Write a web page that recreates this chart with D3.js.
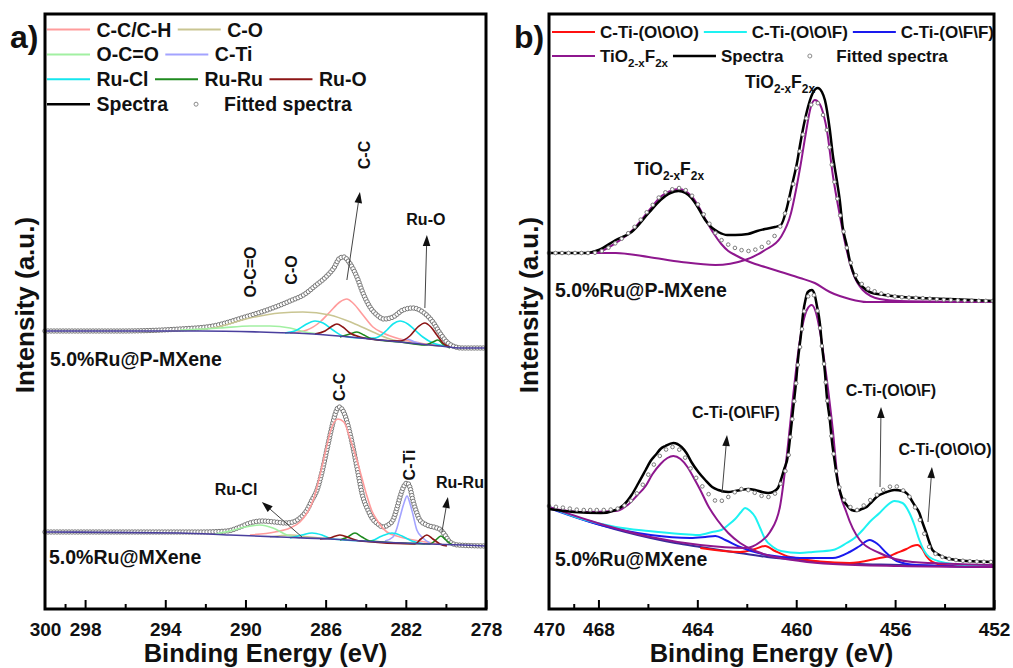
<!DOCTYPE html>
<html>
<head>
<meta charset="utf-8">
<script src="https://cdn.jsdelivr.net/npm/d3@7"></script>
<style>
    body { margin: 0; background: #fff; }
    svg { display: block; }
    text { font-family: "Liberation Sans", Arial, sans-serif; font-weight: bold; fill: #111; }
</style>
</head>
<body>
<svg id="chart" width="1013" height="668"></svg>
<script>
const frameTop = 14;
const frameBottom = 609;

// ---------- panel a : C 1s / Ru 3d   points are [binding energy (eV), intensity (a.u.)]
const aTickLabels = [300, 298, 294, 290, 286, 282, 278];
const aMajorTicks = [298, 294, 290, 286, 282, 278];
const aMinorTicks = [299, 296, 292, 288, 284, 280];
const aComponents = ["C-C/C-H", "C-O", "O-C=O", "C-Ti", "Ru-Cl", "Ru-Ru", "Ru-O"];

// 5.0%Ru@P-MXene (fit sits on the measured spectra, so one list for both)
const aTopSpectra = [[300,278],[296.26,278],[293.27,280],[291.62,283],[290.02,292],[288.78,300],[287.78,308],[287.03,315],[286.53,323],[285.99,332],[285.59,341],[285.29,351],[285.09,352],[284.84,347],[284.44,332],[284.14,316],[283.79,302],[283.44,294],[283.09,290],[282.64,292],[282.14,299],[281.65,301],[281.15,297],[280.65,287],[280.30,276],[279.95,267],[279.65,263],[279.20,261],[278,261]];
const aTopBackground = [[300,278],[292.27,278],[289.28,277],[286.63,275],[284.79,272],[283.29,269],[281.80,266],[280.30,263],[279.30,261],[278,261]];
const aTopCCH = [[287.78,276],[286.93,279],[286.28,287],[285.79,297],[285.29,307],[284.94,310],[284.64,306],[284.14,294],[283.64,282],[283.14,276],[282.29,270],[281.30,266],[280.30,263]];
const aTopCO = [[293.77,278],[291.62,281],[289.78,291],[288.28,296],[287.13,297],[285.79,294],[284.64,286],[283.64,277],[282.79,270],[281.80,266],[280.30,263]];
const aTopOCO = [[293.27,279],[291.27,281],[289.78,283],[288.78,283],[287.78,281],[287.03,277],[286.28,275]];
const aTopCTi = [[282.79,268],[282.29,268],[281.94,270],[281.55,267],[281.05,264]];
const aTopRuCl = [[288.03,276],[287.43,279],[287.03,284],[286.53,288],[286.13,286],[285.64,279],[285.14,273],[284.29,271],[283.54,271],[282.94,279],[282.64,285],[282.29,288],[281.90,285],[281.55,279],[281.15,272],[280.65,266],[280.05,263]];
const aTopRuRu = [[285.29,272],[284.79,275],[284.44,277],[284.09,274],[283.69,270],[282.29,267],[281.05,264],[280.65,267],[280.40,269],[280.15,265],[279.80,261]];
const aTopRuO = [[286.53,275],[286.03,278],[285.74,282],[285.44,285],[285.14,282],[284.79,276],[284.29,272],[283.29,269],[282.29,268],[281.80,273],[281.40,282],[281.05,286],[280.75,282],[280.45,274],[280.15,266],[279.80,262]];

// 5.0%Ru@MXene
const aBotSpectra = [[300,77],[294.76,77],[292.27,77],[290.92,78],[290.27,82],[289.78,86],[289.18,88],[288.53,87],[288.03,86],[287.63,87],[287.28,91],[286.93,99],[286.68,109],[286.43,119],[286.18,137],[285.94,159],[285.64,186],[285.49,197],[285.34,202],[285.19,200],[285.04,194],[284.79,176],[284.44,142],[284.14,112],[283.89,99],[283.69,91],[283.39,85],[283.14,82],[282.89,84],[282.64,89],[282.44,101],[282.29,112],[282.09,123],[281.94,126],[281.80,122],[281.65,109],[281.45,96],[281.30,89],[280.95,84],[280.45,81],[280.25,79],[280.05,74],[279.80,67],[279.40,64],[278,63]];
const aBotBackground = [[300,77],[293.27,76],[290.77,74],[288.28,72],[285.79,70],[283.29,67],[280.80,65],[279.15,64],[278,63]];
const aBotCCH = [[289.78,74],[288.53,77],[287.78,81],[287.28,87],[286.93,96],[286.58,111],[286.28,134],[285.99,159],[285.74,179],[285.39,190],[285.09,187],[284.79,171],[284.44,149],[284.19,131],[283.94,113],[283.69,98],[283.44,89],[282.94,77],[282.29,72],[281.30,68],[280.30,65]];
const aBotCO = [[288.78,72],[287.78,74],[286.78,72],[285.79,70]];
const aBotOCO = [[291.52,75],[290.77,78],[290.02,82],[289.28,84],[288.63,81],[287.93,74],[287.28,71]];
const aBotCTi = [[283.04,68],[282.64,72],[282.44,81],[282.29,92],[282.09,106],[281.94,113],[281.80,106],[281.65,95],[281.45,79],[281.15,71],[280.80,66]];
const aBotRuCl = [[287.78,71],[287.18,74],[286.68,76],[286.18,74],[285.69,70],[283.79,68],[283.19,73],[282.69,76],[282.19,73],[281.70,68],[281.05,65]];
const aBotRuRu = [[285.29,69],[284.89,72],[284.54,76],[284.19,72],[283.79,68],[280.80,65],[280.50,69],[280.25,73],[280.00,69],[279.70,64]];
const aBotRuO = [[286.28,70],[285.79,71],[285.29,74],[284.79,71],[284.29,68],[281.55,65],[281.25,70],[280.95,74],[280.65,70],[280.30,65],[279.95,63]];

// ---------- panel b : Ti 2p
const bTickLabels = [470, 468, 464, 460, 456, 452];
const bMajorTicks = [468, 464, 460, 456, 452];
const bMinorTicks = [469, 466, 462, 458, 454];
const bComponents = ["C-Ti-(O\\O\\O)", "C-Ti-(O\\O\\F)", "C-Ti-(O\\F\\F)", "TiO2-xF2x"];

// 5.0%Ru@P-MXene
const bTopSpectra = [[470,356],[468.51,356],[467.99,359],[467.30,369],[466.66,377],[465.97,396],[465.49,409],[465.09,416],[464.76,418],[464.48,416],[464.24,411],[463.96,401],[463.68,389],[463.40,381],[463.15,377],[462.79,374],[462.47,374],[461.95,375],[461.58,378],[461.26,380],[460.86,382],[460.62,384],[460.37,402],[460.17,424],[459.97,446],[459.81,469],[459.65,489],[459.49,505],[459.33,516],[459.13,521],[458.96,517],[458.84,509],[458.64,479],[458.52,454],[458.36,429],[458.24,409],[458.12,382],[457.96,364],[457.84,349],[457.56,329],[457.31,322],[457.03,317],[456.43,314],[455.70,312],[453.81,310],[452,308]];
const bTopFitted = [[470,356],[468.31,356],[467.99,357],[467.30,366],[466.66,379],[465.97,399],[465.45,414],[465.09,419],[464.76,421],[464.48,419],[464.24,414],[463.96,404],[463.68,392],[463.40,381],[463.15,372],[462.79,365],[462.47,361],[461.95,358],[461.58,360],[461.26,364],[460.94,371],[460.62,384],[460.41,399],[460.21,416],[460.01,437],[459.85,459],[459.69,479],[459.53,496],[459.37,505],[459.21,507],[459.05,503],[458.88,491],[458.76,479],[458.64,459],[458.52,437],[458.36,414],[458.24,396],[458.08,377],[457.96,362],[457.72,341],[457.52,331],[457.31,324],[456.95,319],[456.63,316],[455.82,312],[455.02,311],[453.81,309],[452,308]];
const bTopTiO2Peak1 = [[470,356],[468.31,356],[467.99,357],[467.30,366],[466.66,378],[465.97,398],[465.45,413],[465.09,418],[464.76,420],[464.48,418],[464.24,413],[463.96,403],[463.68,390],[463.35,376],[463.03,365],[462.75,358],[462.47,354],[462.07,349],[461.66,345],[461.26,342],[460.62,337],[459.85,331],[459.25,326],[458.64,317],[458.24,313],[457.84,310],[457.15,307],[455.82,307],[452,307]];
const bTopTiO2Peak2 = [[470,356],[467.30,356],[465.97,352],[464.64,347],[463.27,344],[462.07,349],[461.26,359],[460.62,372],[460.21,396],[460.01,419],[459.81,446],[459.61,476],[459.41,502],[459.25,509],[459.05,505],[458.88,493],[458.76,479],[458.52,434],[458.24,394],[457.96,359],[457.72,337],[457.31,319],[456.63,310],[455.82,308],[452,307]];

// 5.0%Ru@MXene
const bBotSpectra = [[470,100],[468.99,97],[467.91,96],[467.30,99],[466.98,104],[466.66,114],[466.38,126],[466.09,139],[465.89,148],[465.69,154],[465.49,160],[465.29,163],[464.97,166],[464.64,162],[464.44,156],[464.24,147],[463.96,137],[463.68,129],[463.40,122],[463.15,119],[462.75,117],[462.47,118],[462.23,119],[461.95,120],[461.66,119],[461.38,117],[461.14,116],[460.94,117],[460.74,121],[460.62,129],[460.50,139],[460.33,154],[460.25,171],[460.13,199],[460.01,226],[459.93,249],[459.81,274],[459.73,294],[459.61,311],[459.53,317],[459.37,319],[459.25,314],[459.17,304],[459.05,287],[458.96,264],[458.84,237],[458.76,212],[458.64,189],[458.56,169],[458.44,147],[458.32,127],[458.16,112],[457.96,104],[457.76,99],[457.56,98],[457.35,100],[457.15,102],[456.95,107],[456.75,112],[456.35,117],[456.03,119],[455.70,118],[455.50,115],[455.34,109],[455.22,104],[455.02,96],[454.90,87],[454.74,76],[454.62,67],[454.49,59],[454.21,54],[453.93,51],[453.13,48],[452,47]];
const bBotFitted = [[470,103],[469.32,101],[468.67,99],[467.91,99],[467.30,100],[466.98,103],[466.66,109],[466.38,118],[466.09,129],[465.89,139],[465.69,147],[465.49,154],[465.29,159],[464.97,162],[464.64,157],[464.44,149],[464.24,139],[463.96,128],[463.68,119],[463.40,111],[463.15,107],[462.95,109],[462.75,112],[462.47,117],[462.23,120],[461.95,119],[461.66,116],[461.38,113],[461.14,112],[460.94,114],[460.74,119],[460.62,126],[460.50,134],[460.33,149],[460.25,169],[460.13,196],[460.01,224],[459.93,246],[459.81,269],[459.73,289],[459.61,306],[459.53,312],[459.37,317],[459.25,311],[459.17,302],[459.05,284],[458.96,262],[458.84,237],[458.76,212],[458.64,189],[458.56,169],[458.44,147],[458.32,129],[458.16,114],[457.96,106],[457.76,101],[457.56,99],[457.35,102],[457.15,106],[456.95,110],[456.75,114],[456.35,121],[456.03,123],[455.70,119],[455.50,115],[455.34,109],[455.22,103],[455.10,96],[454.90,82],[454.70,66],[454.41,56],[453.93,51],[453.13,48],[452,47]];
const bBotBackground = [[470,102],[468.91,92],[467.91,84],[466.90,77],[465.89,71],[464.89,66],[463.88,62],[462.55,57],[461.18,52],[459.85,49],[458.52,46],[455.82,44],[452,42]];
const bBotTiO2Peak1 = [[470,101],[468.67,97],[467.30,98],[466.82,104],[466.42,114],[466.09,123],[465.81,135],[465.49,145],[465.21,151],[464.97,153],[464.68,150],[464.40,142],[464.12,130],[463.88,119],[463.56,103],[463.19,89],[462.75,76],[462.27,66],[461.66,58],[461.18,54],[459.85,48],[458.52,45],[455.82,43],[452,42]];
const bBotTiO2Peak2 = [[470,102],[467.91,85],[465.89,72],[463.88,64],[462.07,61],[461.46,67],[461.06,77],[460.66,102],[460.37,156],[460.13,212],[459.85,269],[459.57,299],[459.37,304],[459.21,297],[459.05,279],[458.76,229],[458.52,179],[458.32,129],[457.96,96],[457.43,69],[456.63,56],[455.30,47],[452,44]];
const bBotOOF = [[470,102],[468.67,90],[467.30,82],[465.97,78],[464.68,75],[463.96,74],[463.40,77],[463.03,79],[462.75,84],[462.47,90],[462.23,97],[462.07,101],[461.86,98],[461.66,92],[461.46,81],[461.26,70],[460.94,62],[460.62,58],[459.85,56],[459.33,57],[458.52,59],[457.96,66],[457.64,71],[457.31,79],[457.03,87],[456.63,96],[456.35,103],[456.03,108],[455.70,106],[455.42,96],[455.22,84],[455.02,69],[454.82,58],[454.62,52],[453.93,46],[453.13,44],[452,43]];
const bBotOFF = [[470,101],[467.91,84],[465.89,74],[464.28,71],[463.68,72],[463.27,73],[462.87,69],[462.27,62],[461.18,54],[459.85,51],[458.52,51],[457.84,57],[457.43,63],[457.03,69],[456.71,65],[456.35,56],[455.94,48],[455.14,44],[452,42]];
const bBotOOO = [[463.88,61],[462.27,57],[461.66,60],[461.26,63],[460.86,58],[460.25,52],[457.84,46],[456.63,51],[456.23,53],[455.94,56],[455.54,60],[455.30,63],[455.10,64],[454.90,60],[454.74,53],[454.49,47],[454.01,44],[452,42]];

const aColor = d3.scaleOrdinal(aComponents,
    ["#ff9c9c", "#c9c592", "#a2f0a2", "#a3a3ff", "#14e6ee", "#1f8a1f", "#8c1515"]);
const bColor = d3.scaleOrdinal(bComponents, ["#ff1010", "#1ef2f2", "#1a1aee", "#8e178e"]);

const svg = d3.select("#chart");

function makeScales(cfg) {
    const x = d3.scaleLinear().domain(cfg.domain).range([cfg.left, cfg.right]);
    const y = d3.scaleLinear().domain([0, frameBottom - frameTop]).range([frameBottom, frameTop]);
    const line = d3.line().x(d => x(d[0])).y(d => y(d[1])).curve(d3.curveMonotoneX);
    return { x, y, line };
}

// circles spaced along a drawn path (w < 1 spaces them mainly along x)
function markersAlong(node, step, w) {
    const len = node.getTotalLength();
    const out = [];
    let prev = node.getPointAtLength(0);
    let acc = step;
    for (let l = 0; l <= len; l += 0.5) {
        const p = node.getPointAtLength(l);
        acc += Math.hypot(p.x - prev.x, (p.y - prev.y) * w);
        prev = p;
        if (acc >= step) { out.push(p); acc = 0; }
    }
    return out;
}

function chemLabel(sel, fs) {
    sel.append("tspan").text("TiO");
    sel.append("tspan").attr("font-size", fs * 0.68).attr("dy", fs * 0.3).text("2-x");
    sel.append("tspan").attr("dy", -fs * 0.3).text("F");
    sel.append("tspan").attr("font-size", fs * 0.68).attr("dy", fs * 0.3).text("2x");
}

function drawFrame(cfg, s) {
    const g = svg.append("g").attr("class", "axis");

    // inward ticks
    g.append("g")
        .attr("transform", `translate(0,${frameBottom})`)
        .call(d3.axisBottom(s.x).tickValues(cfg.majors).tickSize(-9).tickFormat(""))
        .call(a => a.select(".domain").remove())
        .selectAll("line").attr("stroke", "#000").attr("stroke-width", 2);
    g.append("g")
        .attr("transform", `translate(0,${frameBottom})`)
        .call(d3.axisBottom(s.x).tickValues(cfg.minors).tickSize(-5).tickFormat(""))
        .call(a => a.select(".domain").remove())
        .selectAll("line").attr("stroke", "#000").attr("stroke-width", 2);

    // tick labels
    g.append("g")
        .attr("transform", `translate(0,${frameBottom})`)
        .call(d3.axisBottom(s.x).tickValues(cfg.labels).tickSize(0).tickPadding(14).tickFormat(d3.format("d")))
        .call(a => a.select(".domain").remove())
        .selectAll("text")
        .attr("font-size", 19)
        .attr("font-family", "Liberation Sans, Arial, sans-serif")
        .attr("font-weight", "bold")
        .attr("fill", "#111");

    g.append("rect")
        .attr("x", cfg.left)
        .attr("y", frameTop)
        .attr("width", cfg.right - cfg.left)
        .attr("height", frameBottom - frameTop)
        .attr("fill", "none")
        .attr("stroke", "#000")
        .attr("stroke-width", 3);

    svg.append("text")
        .attr("x", (cfg.left + cfg.right) / 2)
        .attr("y", 662)
        .attr("text-anchor", "middle")
        .attr("font-size", 25.5)
        .text("Binding Energy (eV)");

    svg.append("text")
        .attr("transform", `translate(${cfg.left - 11},${305}) rotate(-90)`)
        .attr("text-anchor", "middle")
        .attr("font-size", 26)
        .text("Intensity (a.u.)");

    svg.append("text")
        .attr("x", cfg.left - 35)
        .attr("y", 48)
        .attr("font-family", "Liberation Serif, Times New Roman, serif")
        .attr("font-size", 32)
        .text(cfg.tag);
}

function drawCurves(s, curves) {
    const g = svg.append("g").attr("class", "curves");
    g.selectAll("path")
        .data(curves)
        .enter()
        .append("path")
        .attr("d", d => s.line(d.values))
        .attr("fill", "none")
        .attr("stroke", d => d.color)
        .attr("stroke-width", d => d.width);
}

function drawFitted(s, values, opt) {
    const path = svg.append("path")
        .attr("d", s.line(values))
        .attr("fill", "none")
        .attr("stroke", "none");
    const pts = markersAlong(path.node(), opt.step, opt.w);
    svg.append("g")
        .attr("class", "fitted")
        .selectAll("circle")
        .data(pts)
        .enter()
        .append("circle")
        .attr("cx", d => d.x)
        .attr("cy", d => d.y)
        .attr("r", opt.r)
        .attr("fill", opt.fill)
        .attr("stroke", opt.stroke)
        .attr("stroke-width", 1);
}

function drawArrow(s, from, to) {
    const x1 = s.x(from[0]), y1 = s.y(from[1]);
    const x2 = s.x(to[0]), y2 = s.y(to[1]);
    const ang = Math.atan2(y2 - y1, x2 - x1);
    const hl = 11, hw = 3.8;
    const bx = x2 - hl * Math.cos(ang), by = y2 - hl * Math.sin(ang);
    svg.append("line")
        .attr("x1", x1).attr("y1", y1).attr("x2", bx).attr("y2", by)
        .attr("stroke", "#444").attr("stroke-width", 1);
    svg.append("path")
        .attr("d", `M${x2},${y2}L${bx - hw * Math.sin(ang)},${by + hw * Math.cos(ang)}L${bx + hw * Math.sin(ang)},${by - hw * Math.cos(ang)}Z`)
        .attr("fill", "#111");
}

function drawLegend(rows, opt) {
    const g = svg.append("g").attr("class", "legend");
    rows.forEach((row, ri) => {
        let cx = opt.x;
        const cy = opt.y + ri * opt.dy;
        row.forEach(item => {
            if (item.marker) {
                g.append("circle")
                    .attr("cx", cx + opt.len / 2).attr("cy", cy).attr("r", 2)
                    .attr("fill", "#fff").attr("stroke", "#8a8a8a").attr("stroke-width", 1);
            } else {
                g.append("line")
                    .attr("x1", cx).attr("x2", cx + opt.len).attr("y1", cy).attr("y2", cy)
                    .attr("stroke", item.color).attr("stroke-width", item.color === "#000" ? 2.5 : 2);
            }
            const t = g.append("text")
                .attr("x", cx + opt.len + opt.gap)
                .attr("y", cy + opt.fs * 0.36)
                .attr("font-size", opt.fs);
            if (item.name === "TiO2-xF2x") chemLabel(t, opt.fs);
            else t.text(item.name);
            cx = cx + opt.len + opt.gap + t.node().getComputedTextLength() + opt.gap;
        });
    });
}

function addLabel(s, pos, txt, opt) {
    const t = svg.append("text")
        .attr("font-size", opt.fs)
        .attr("text-anchor", opt.anchor || "start");
    if (opt.weight) t.attr("font-weight", opt.weight);
    if (opt.rotate) {
        t.attr("transform", `translate(${s.x(pos[0])},${s.y(pos[1])}) rotate(-90)`);
    } else {
        t.attr("x", s.x(pos[0])).attr("y", s.y(pos[1]));
    }
    if (txt === "TiO2-xF2x") chemLabel(t, opt.fs);
    else t.text(txt);
}

// ================= panel a =================
function plotPanelA() {
    const cfg = { left: 45, right: 486, domain: [300, 278], tag: "a)",
        majors: aMajorTicks, minors: aMinorTicks, labels: aTickLabels };
    const s = makeScales(cfg);

    const top = [aTopCCH, aTopCO, aTopOCO, aTopCTi, aTopRuCl, aTopRuRu, aTopRuO];
    const bot = [aBotCCH, aBotCO, aBotOCO, aBotCTi, aBotRuCl, aBotRuRu, aBotRuO];

    drawCurves(s, [
        { values: aTopSpectra, color: "#000", width: 1.4 },
        { values: aBotSpectra, color: "#000", width: 1.4 }
    ]);
    drawFitted(s, aTopSpectra, { step: 2.8, w: 1, r: 2.2, fill: "#fff", stroke: "#777" });
    drawFitted(s, aBotSpectra, { step: 2.8, w: 1, r: 2.2, fill: "#fff", stroke: "#777" });
    drawCurves(s, top.map((v, i) => ({ values: v, color: aColor(aComponents[i]), width: 1.6 }))
        .concat(bot.map((v, i) => ({ values: v, color: aColor(aComponents[i]), width: 1.6 }))));
    drawCurves(s, [
        { values: aTopBackground, color: "#4a3f9e", width: 1.6 },
        { values: aBotBackground, color: "#4a3f9e", width: 1.6 }
    ]);

    drawFrame(cfg, s);

    drawLegend([
        [{ name: "C-C/C-H", color: aColor("C-C/C-H") }, { name: "C-O", color: aColor("C-O") }],
        [{ name: "O-C=O", color: aColor("O-C=O") }, { name: "C-Ti", color: aColor("C-Ti") }],
        [{ name: "Ru-Cl", color: aColor("Ru-Cl") }, { name: "Ru-Ru", color: aColor("Ru-Ru") }, { name: "Ru-O", color: aColor("Ru-O") }],
        [{ name: "Spectra", color: "#000" }, { name: "Fitted spectra", marker: true }]
    ], { x: 47, y: 29.5, dy: 24.9, len: 43, gap: 6.5, fs: 19.5 });

    addLabel(s, [299.75, 243], "5.0%Ru@P-MXene", { fs: 19.5 });
    addLabel(s, [299.8, 45], "5.0%Ru@MXene", { fs: 19.5 });

    addLabel(s, [289.48, 337], "O-C=O", { fs: 16, rotate: true, anchor: "middle" });
    addLabel(s, [287.43, 339], "C-O", { fs: 16, rotate: true, anchor: "middle" });
    addLabel(s, [283.79, 454], "C-C", { fs: 16, rotate: true, anchor: "middle" });
    addLabel(s, [285.04, 222], "C-C", { fs: 16, rotate: true, anchor: "middle" });
    addLabel(s, [281.55, 144], "C-Ti", { fs: 16, rotate: true, anchor: "middle" });
    addLabel(s, [281.00, 384], "Ru-O", { fs: 16, anchor: "middle" });
    addLabel(s, [290.47, 114], "Ru-Cl", { fs: 16, anchor: "middle" });
    addLabel(s, [279.30, 121], "Ru-Ru", { fs: 16, anchor: "middle" });

    drawArrow(s, [284.94, 329], [284.29, 417]);
    drawArrow(s, [281.05, 301], [280.95, 374]);
    drawArrow(s, [287.18, 72], [289.18, 107]);
    drawArrow(s, [280.20, 77], [279.90, 112]);
}

// ================= panel b =================
function plotPanelB() {
    const cfg = { left: 549, right: 994, domain: [470, 452], tag: "b)",
        majors: bMajorTicks, minors: bMinorTicks, labels: bTickLabels };
    const s = makeScales(cfg);
    const purple = bColor("TiO2-xF2x");

    drawCurves(s, [
        { values: bBotBackground, color: "#3a2a9a", width: 2 },
        { values: bBotOOO, color: bColor(bComponents[0]), width: 2 },
        { values: bBotOFF, color: bColor(bComponents[2]), width: 2 },
        { values: bBotOOF, color: bColor(bComponents[1]), width: 2 },
        { values: bBotTiO2Peak1, color: purple, width: 2 },
        { values: bBotTiO2Peak2, color: purple, width: 2 },
        { values: bTopTiO2Peak1, color: purple, width: 2 },
        { values: bTopTiO2Peak2, color: purple, width: 2 },
        { values: bTopSpectra, color: "#000", width: 2.5 },
        { values: bBotSpectra, color: "#000", width: 2.5 }
    ]);
    drawFitted(s, bTopFitted, { step: 6.5, w: 0.35, r: 1.8, fill: "#fff", stroke: "#7c7c7c" });
    drawFitted(s, bBotFitted, { step: 6.5, w: 0.35, r: 1.8, fill: "#fff", stroke: "#7c7c7c" });

    drawFrame(cfg, s);

    drawLegend([
        [{ name: bComponents[0], color: bColor(bComponents[0]) }, { name: bComponents[1], color: bColor(bComponents[1]) }, { name: bComponents[2], color: bColor(bComponents[2]) }],
        [{ name: "TiO2-xF2x", color: purple }, { name: "Spectra", color: "#000" }, { name: "Fitted spectra", marker: true }]
    ], { x: 552, y: 32, dy: 24, len: 43, gap: 5, fs: 17 });

    addLabel(s, [462.07, 521], "TiO2-xF2x", { fs: 17.5, weight: "normal" });
    addLabel(s, [466.56, 434], "TiO2-xF2x", { fs: 17.5, weight: "normal" });
    addLabel(s, [469.76, 312], "5.0%Ru@P-MXene", { fs: 19.5 });
    addLabel(s, [469.76, 43], "5.0%Ru@MXene", { fs: 19.5 });
    addLabel(s, [462.44, 191], "C-Ti-(O\\F\\F)", { fs: 16, anchor: "middle" });
    addLabel(s, [456.17, 213], "C-Ti-(O\\O\\F)", { fs: 16, anchor: "middle" });
    addLabel(s, [453.98, 154], "C-Ti-(O\\O\\O)", { fs: 16, anchor: "middle" });

    drawArrow(s, [463.00, 116], [462.80, 174]);
    drawArrow(s, [456.61, 122], [456.57, 202]);
    drawArrow(s, [454.67, 87], [454.51, 142]);
}

plotPanelA();
plotPanelB();
</script>
</body>
</html>
